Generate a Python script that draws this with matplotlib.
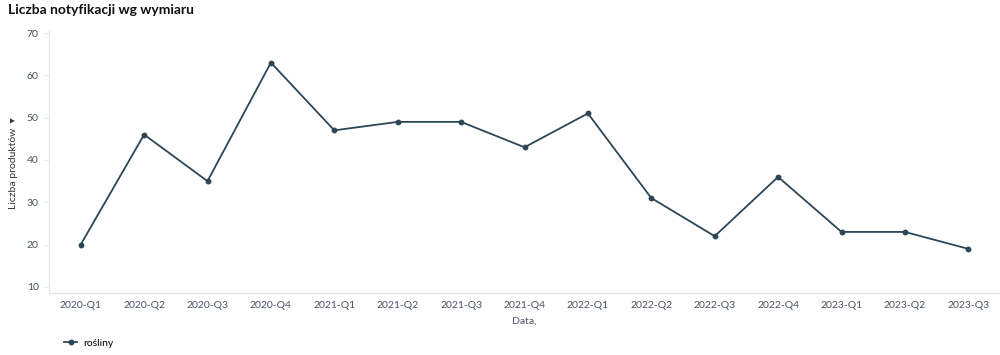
import matplotlib.pyplot as plt
from matplotlib.lines import Line2D

plt.rcParams['font.family'] = ['Lato', 'DejaVu Sans']

# dane z wykresu
kwartaly = ['2020-Q1', '2020-Q2', '2020-Q3', '2020-Q4', '2021-Q1', '2021-Q2', '2021-Q3',
            '2021-Q4', '2022-Q1', '2022-Q2', '2022-Q3', '2022-Q4', '2023-Q1', '2023-Q2', '2023-Q3']
rosliny = [20, 46, 35, 63, 47, 49, 49, 43, 51, 31, 22, 36, 23, 23, 19]
y_ticks = [10, 20, 30, 40, 50, 60, 70]

kolor = '#2c4658'
szary = '#e6e6e6'
tekst = '#4a5260'

fig = plt.figure(figsize=(10, 3.55), dpi=100)
ax = fig.add_axes([0.049, 0.175, 0.951, 0.738])

x = list(range(len(kwartaly)))
ax.plot(x, rosliny, color=kolor, lw=1.3, marker='o', ms=3.2)

ax.set_xlim(-0.5, len(kwartaly) - 0.5)
ax.set_ylim(8.6, 70.5)
ax.set_xticks(x)
ax.set_xticklabels(kwartaly)
ax.set_yticks(y_ticks)

for s in ['top', 'right']:
    ax.spines[s].set_visible(False)
for s in ['left', 'bottom']:
    ax.spines[s].set_color(szary)
    ax.spines[s].set_linewidth(0.9)

ax.tick_params(axis='x', length=0, pad=6, labelsize=7.5, labelcolor=tekst)
ax.tick_params(axis='y', length=3.5, color=szary, pad=4, labelsize=7.5, labelcolor=tekst)

ax.set_xlabel('Data,', fontsize=7.5, color=tekst, labelpad=5)
fig.text(0.014, 0.54, 'Liczba produktów  ▾', rotation=90, fontsize=7.5,
         color='#333', ha='center', va='center')

fig.text(0.008, 0.972, 'Liczba notyfikacji wg wymiaru', fontsize=10, fontweight='bold',
         color='#111', ha='left', va='center')

uchwyt = Line2D([], [], color=kolor, lw=1.3, marker='o', ms=3.2)
fig.legend([uchwyt], ['rośliny'], loc='center left', bbox_to_anchor=(0.055, 0.033),
           frameon=False, fontsize=7.5, handlelength=1.2, handletextpad=0.6)

fig.savefig('out.png', dpi=100)
